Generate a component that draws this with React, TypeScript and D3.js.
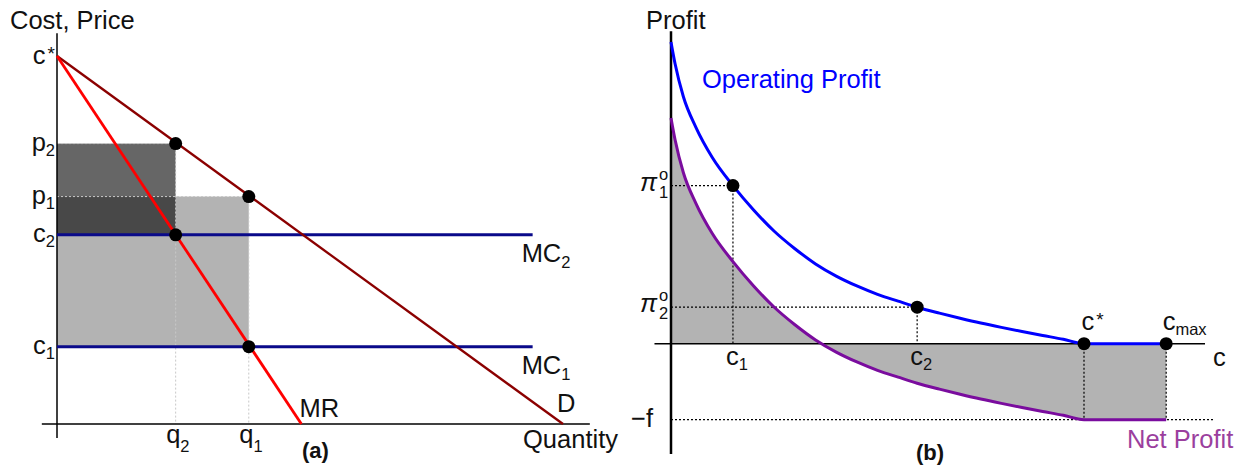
import React from "react";
import * as d3 from "d3";

const FONT = "'Liberation Sans', Arial, Helvetica, sans-serif";

// ---------- Panel (a) data ----------
const demandPoints: [number, number][] = [[0, 100], [100, 0]];
const mrPoints: [number, number][] = [[0, 100], [48.3, 0]];
const priceTicks = [
  { base: "c", sup: "*", value: 100 },
  { base: "p", sub: "2", value: 76.2 },
  { base: "p", sub: "1", value: 61.8 },
  { base: "c", sub: "2", value: 51.4 },
  { base: "c", sub: "1", value: 21.0 },
];
const quantityTicks = [
  { base: "q", sub: "2", value: 23.45, top: 76.2 },
  { base: "q", sub: "1", value: 37.9, top: 61.8 },
];
const mcLines = [
  { label: "MC", sub: "2", value: 51.4, end: 94 },
  { label: "MC", sub: "1", value: 21.0, end: 94 },
];
const optimumPoints = [
  { q: 23.45, p: 76.2 },
  { q: 37.9, p: 61.8 },
  { q: 23.45, p: 51.4 },
  { q: 37.9, p: 21.0 },
];
const profitRects = [
  { q: 37.9, top: 61.8, bottom: 21.0, fill: "#b3b3b3", opacity: 1 },
  { q: 23.45, top: 76.2, bottom: 51.4, fill: "#000000", opacity: 0.6 },
];

// ---------- Panel (b) data ----------
const costValues = [
  0, 0.01, 0.03, 0.06, 0.1, 0.15, 0.2, 0.25, 0.3, 0.35, 0.4, 0.45, 0.5, 0.55, 0.596,
  0.65, 0.7, 0.75, 0.8, 0.85, 0.9, 0.95, 1.0, 1.1, 1.199,
];
const operatingProfit = [
  3.97, 3.68, 3.25, 2.85, 2.45, 2.08, 1.76, 1.48, 1.25, 1.05, 0.89, 0.76, 0.65, 0.56, 0.48,
  0.402, 0.335, 0.272, 0.215, 0.161, 0.109, 0.058, 0, 0, 0,
];
const netProfit = [
  2.97, 2.68, 2.25, 1.85, 1.45, 1.08, 0.76, 0.48, 0.25, 0.05, -0.11, -0.24, -0.35, -0.44, -0.52,
  -0.598, -0.665, -0.728, -0.785, -0.839, -0.891, -0.942, -1, -1, -1,
];
const costMarks = [
  { base: "c", sub: "1", c: 0.15, profit: 2.08 },
  { base: "c", sub: "2", c: 0.596, profit: 0.48 },
];
const profitTicks = [
  { sub: "1", value: 2.08 },
  { sub: "2", value: 0.48 },
];
const fixedCost = -1;
const cStar = 1.0;
const cMax = 1.199;

export default function App() {
  const xA = d3.scaleLinear().domain([0, 100]).range([57, 563]);
  const yA = d3.scaleLinear().domain([0, 100]).range([424, 56]);
  const lineA = d3
    .line<[number, number]>()
    .x((d) => xA(d[0]))
    .y((d) => yA(d[1]));

  const xB = d3.scaleLinear().domain([0, 1]).range([671, 1084]);
  const yB = d3.scaleLinear().domain([0, 1]).range([343.7, 267.7]);
  const opData = costValues.map((c, i) => [c, operatingProfit[i]] as [number, number]);
  const netData = costValues.map((c, i) => [c, netProfit[i]] as [number, number]);
  const lineB = d3
    .line<[number, number]>()
    .x((d) => xB(d[0]))
    .y((d) => yB(d[1]))
    .curve(d3.curveMonotoneX);
  const areaB = d3
    .area<[number, number]>()
    .x((d) => xB(d[0]))
    .y0(yB(0))
    .y1((d) => yB(d[1]))
    .curve(d3.curveMonotoneX);

  const fs = 25.5;
  const sfs = 16.5;
  const dot = "2,2";

  return (
    <svg
      width={1247}
      height={472}
      style={{ position: "absolute", left: 0, top: 0, background: "#fff" }}
      fontFamily={FONT}
    >
      <rect x={0} y={0} width={1247} height={472} fill="#fff" />
      {/* ================= Panel (a) ================= */}
      {profitRects.map((r, i) => (
        <rect
          key={i}
          x={xA(0)}
          y={yA(r.top)}
          width={xA(r.q) - xA(0)}
          height={yA(r.bottom) - yA(r.top)}
          fill={r.fill}
          fillOpacity={r.opacity}
        />
      ))}
      {quantityTicks.map((t, i) => (
        <g key={i} stroke="#c8c8c8" strokeWidth={1} strokeDasharray={dot}>
          <line x1={xA(0)} x2={xA(t.value)} y1={yA(t.top)} y2={yA(t.top)} />
          <line x1={xA(t.value)} x2={xA(t.value)} y1={yA(t.top)} y2={yA(0)} />
        </g>
      ))}
      <line x1={xA(0)} x2={xA(0)} y1={yA(-3.8)} y2={yA(106.2)} stroke="#000" strokeWidth={1.5} />
      <line x1={xA(-3)} x2={xA(105.3)} y1={yA(0)} y2={yA(0)} stroke="#000" strokeWidth={1.5} />
      {mcLines.map((m, i) => (
        <g key={i}>
          <line x1={xA(0)} x2={xA(m.end)} y1={yA(m.value)} y2={yA(m.value)} stroke="#0a0a8a" strokeWidth={3} />
          <text x={xA(m.end) - 11} y={yA(m.value) + 27} fontSize={fs} fill="#111">
            {m.label}
            <tspan fontSize={sfs} dy={6}>{m.sub}</tspan>
          </text>
        </g>
      ))}
      <path d={lineA(demandPoints) || ""} stroke="#8b0000" strokeWidth={2.3} fill="none" />
      <path d={lineA(mrPoints) || ""} stroke="#ff0000" strokeWidth={2.8} fill="none" />
      {optimumPoints.map((p, i) => (
        <circle key={i} cx={xA(p.q)} cy={yA(p.p)} r={6.5} fill="#000" />
      ))}
      {priceTicks.map((t, i) => (
        <text key={i} x={55} y={yA(t.value) + 7.5} fontSize={fs} textAnchor="end" fill="#111">
          {t.base}
          {t.sub ? (
            <tspan fontSize={sfs} dy={5}>{t.sub}</tspan>
          ) : (
            <tspan fontSize={19} dy={-4} dx={2}>{t.sup}</tspan>
          )}
        </text>
      ))}
      {quantityTicks.map((t, i) => (
        <text key={i} x={xA(t.value) - 9.5} y={443} fontSize={fs} fill="#111">
          {t.base}
          <tspan fontSize={sfs} dy={8.5}>{t.sub}</tspan>
        </text>
      ))}
      <text x={xA(48.3) - 2} y={416.5} fontSize={fs} fill="#111">MR</text>
      <text x={xA(100) - 6} y={411.5} fontSize={fs} fill="#111">D</text>
      <text x={10} y={29} fontSize={fs} fill="#111">Cost, Price</text>
      <text x={523} y={448} fontSize={fs} fill="#111">Quantity</text>
      <text x={302} y={458} fontSize={22} fontWeight="bold" fill="#111">(a)</text>

      {/* ================= Panel (b) ================= */}
      <path d={areaB(netData) || ""} fill="#b3b3b3" />
      <g stroke="#000" strokeWidth={1.2} strokeDasharray={dot} fill="none">
        {costMarks.map((m, i) => (
          <g key={i}>
            <line x1={xB(0)} x2={xB(m.c)} y1={yB(m.profit)} y2={yB(m.profit)} />
            <line x1={xB(m.c)} x2={xB(m.c)} y1={yB(m.profit)} y2={yB(0)} />
          </g>
        ))}
        <line x1={xB(cStar)} x2={xB(cStar)} y1={yB(0)} y2={yB(fixedCost)} />
        <line x1={xB(cMax)} x2={xB(cMax)} y1={yB(0)} y2={yB(fixedCost)} />
        <line x1={xB(0)} x2={xB(1.317)} y1={yB(fixedCost)} y2={yB(fixedCost)} />
      </g>
      <line x1={xB(0)} x2={xB(0)} y1={yB(-1.45)} y2={yB(4.11)} stroke="#000" strokeWidth={2.5} />
      <line x1={xB(-0.04)} x2={xB(1.293)} y1={yB(0)} y2={yB(0)} stroke="#000" strokeWidth={1.5} />
      <path d={lineB(opData) || ""} stroke="#0000ff" strokeWidth={3} fill="none" />
      <path d={lineB(netData) || ""} stroke="#7a0c9e" strokeWidth={3} fill="none" />
      {costMarks.map((m, i) => (
        <circle key={i} cx={xB(m.c)} cy={yB(m.profit)} r={6.5} fill="#000" />
      ))}
      <circle cx={xB(cStar)} cy={yB(0)} r={6.5} fill="#000" />
      <circle cx={xB(cMax)} cy={yB(0)} r={6.5} fill="#000" />
      {costMarks.map((m, i) => (
        <text key={i} x={xB(m.c) - 7} y={365} fontSize={fs} fill="#111">
          {m.base}
          <tspan fontSize={sfs} dy={5}>{m.sub}</tspan>
        </text>
      ))}
      {profitTicks.map((t, i) => (
        <g key={i} fill="#111">
          <text x={640} y={yB(t.value) + 5} fontSize={fs} fontStyle="italic">π</text>
          <text x={659} y={yB(t.value) - 6} fontSize={sfs}>o</text>
          <text x={659} y={yB(t.value) + 12} fontSize={sfs}>{t.sub}</text>
        </g>
      ))}
      <text x={631} y={426.5} fontSize={fs} fill="#111">−f</text>
      <text x={xB(cStar) - 2.5} y={330} fontSize={fs} fill="#111">
        c<tspan fontSize={19} dy={-4} dx={2}>*</tspan>
      </text>
      <text x={xB(cMax) - 3.5} y={329.5} fontSize={fs} fill="#111">
        c<tspan fontSize={sfs} dy={5}>max</tspan>
      </text>
      <text x={1213} y={366} fontSize={fs} fill="#111">c</text>
      <text x={646} y={29} fontSize={fs} fill="#111">Profit</text>
      <text x={702} y={88} fontSize={fs} fill="#0000ff">Operating Profit</text>
      <text x={1127} y={448} fontSize={fs} fill="#9b3f9e">Net Profit</text>
      <text x={916} y={460} fontSize={22} fontWeight="bold" fill="#111">(b)</text>
    </svg>
  );
}
